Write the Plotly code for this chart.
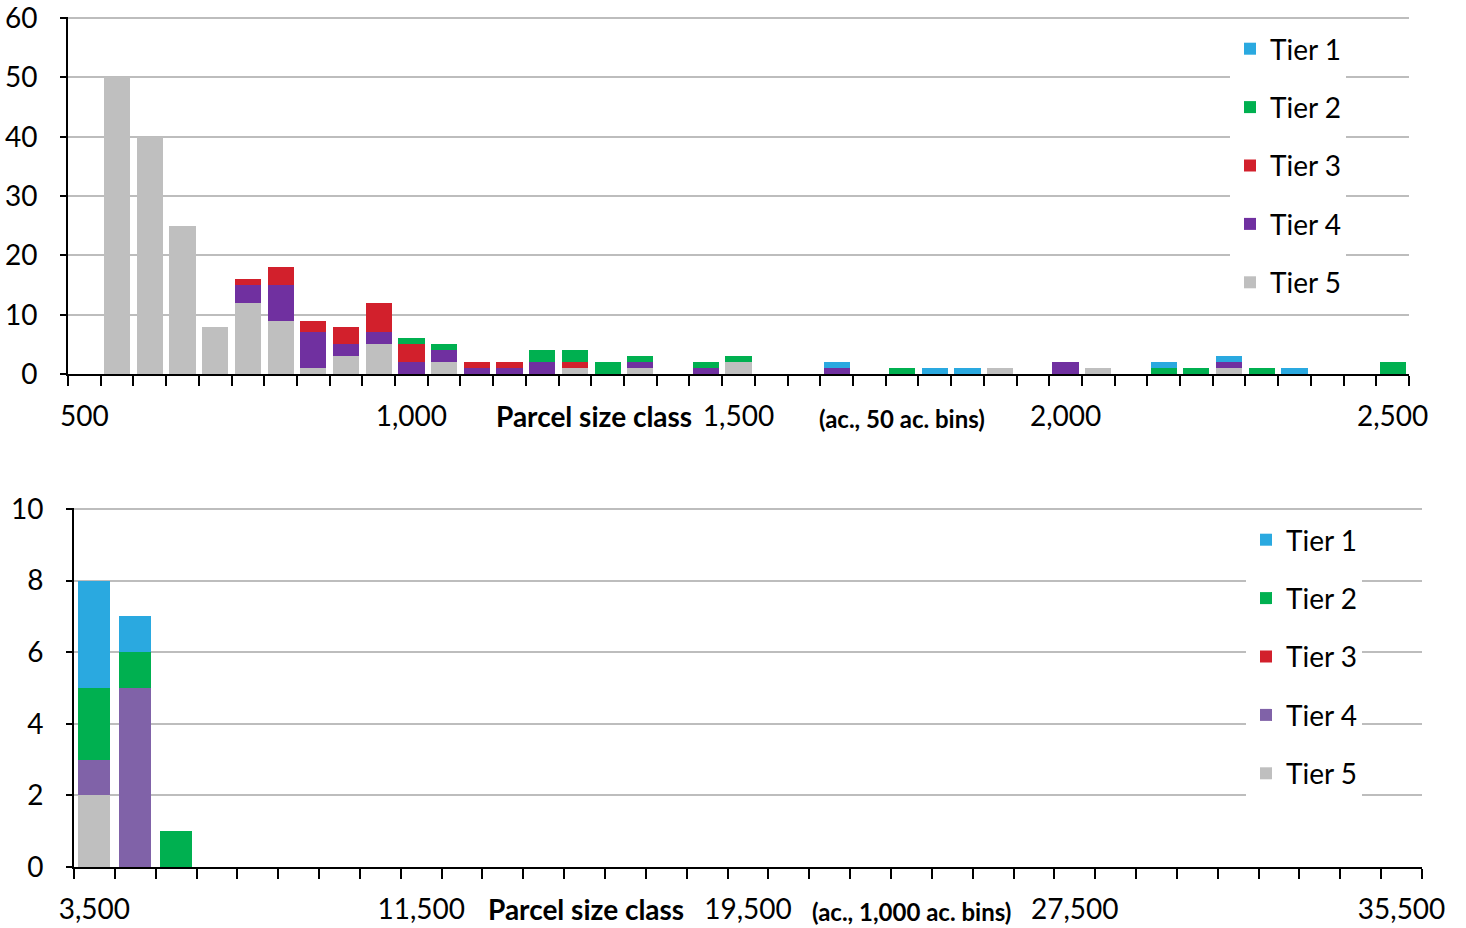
import plotly.graph_objects as go

W, H = 1466, 928

# ---------------- Top chart data (50 ac. bins, 500 .. 2500) ----------------
top_bins = list(range(500, 2501, 50))
top_tier5 = [0, 50, 40, 25, 8, 12, 9, 1, 3, 5, 0, 2, 0, 0, 0, 1, 0, 1, 0, 0, 2,
             0, 0, 0, 0, 0, 0, 0, 1, 0, 0, 1, 0, 0, 0, 1, 0, 0, 0, 0, 0]
top_tier4 = [0, 0, 0, 0, 0, 3, 6, 6, 2, 2, 2, 2, 1, 1, 2, 0, 0, 1, 0, 1, 0,
             0, 0, 1, 0, 0, 0, 0, 0, 0, 2, 0, 0, 0, 0, 1, 0, 0, 0, 0, 0]
top_tier3 = [0, 0, 0, 0, 0, 1, 3, 2, 3, 5, 3, 0, 1, 1, 0, 1, 0, 0, 0, 0, 0,
             0, 0, 0, 0, 0, 0, 0, 0, 0, 0, 0, 0, 0, 0, 0, 0, 0, 0, 0, 0]
top_tier2 = [0, 0, 0, 0, 0, 0, 0, 0, 0, 0, 1, 1, 0, 0, 2, 2, 2, 1, 0, 1, 1,
             0, 0, 0, 0, 1, 0, 0, 0, 0, 0, 0, 0, 1, 1, 0, 1, 0, 0, 0, 2]
top_tier1 = [0, 0, 0, 0, 0, 0, 0, 0, 0, 0, 0, 0, 0, 0, 0, 0, 0, 0, 0, 0, 0,
             0, 0, 1, 0, 0, 1, 1, 0, 0, 0, 0, 0, 1, 0, 1, 0, 1, 0, 0, 0]
top_ticks = [500, 1000, 1500, 2000, 2500]
top_yticks = [0, 10, 20, 30, 40, 50, 60]

# ---------------- Bottom chart data (1,000 ac. bins, 3,500 .. 35,500) ----------------
bot_bins = list(range(3500, 35501, 1000))
bot_tier5 = [2] + [0] * 32
bot_tier4 = [1, 5] + [0] * 31
bot_tier3 = [0] * 33
bot_tier2 = [2, 1, 1] + [0] * 30
bot_tier1 = [3, 1] + [0] * 31
bot_ticks = [3500, 11500, 19500, 27500, 35500]
bot_yticks = [0, 2, 4, 6, 8, 10]

tier_names = ["Tier 5", "Tier 4", "Tier 3", "Tier 2", "Tier 1"]
tier_ranks = [5, 4, 3, 2, 1]
top_colors = ["#BFBFBF", "#7030A0", "#D2202C", "#00B050", "#2AA9E0"]
bot_colors = ["#BFBFBF", "#8062A8", "#D2202C", "#00B050", "#2AA9E0"]

FONT = "Lato, 'Open Sans', sans-serif"

fig = go.Figure()

top_series = [top_tier5, top_tier4, top_tier3, top_tier2, top_tier1]
for name, rank, vals, col in zip(tier_names, tier_ranks, top_series, top_colors):
    fig.add_trace(go.Bar(x=top_bins, y=vals, name=name, marker_color=col,
                         marker_line_width=0, width=40, xaxis="x", yaxis="y",
                         legend="legend", legendgroup="top" + name, legendrank=rank))

bot_series = [bot_tier5, bot_tier4, bot_tier3, bot_tier2, bot_tier1]
for name, rank, vals, col in zip(tier_names, tier_ranks, bot_series, bot_colors):
    fig.add_trace(go.Bar(x=bot_bins, y=vals, name=name, marker_color=col,
                         marker_line_width=0, width=780, xaxis="x2", yaxis="y2",
                         legend="legend2", legendgroup="bot" + name, legendrank=rank))


def px_x(p):
    return p / W


def px_y(p):
    return 1 - p / H


axis_common = dict(showline=True, linecolor="black", linewidth=2, automargin=False,
                   ticklabeloverflow="allow",
                   tickfont=dict(family=FONT, size=28, color="black"))

xcommon = dict(axis_common, showgrid=False, zeroline=False, ticks="outside",
               ticklen=10, tickcolor="rgba(0,0,0,0)", ticklabelstandoff=6)
ycommon = dict(axis_common, showgrid=True, gridcolor="#BDBDBD", gridwidth=1.5,
               zeroline=False, ticks="outside", ticklen=6, tickwidth=2,
               tickcolor="black", ticklabelstandoff=17)

legend_common = dict(xanchor="left", yanchor="top", bgcolor="white",
                     traceorder="grouped", tracegroupgap=19,
                     font=dict(family=FONT, size=28, color="black"), itemwidth=30)

fig.update_layout(
    width=W, height=H,
    margin=dict(l=0, r=0, t=0, b=0, autoexpand=False),
    paper_bgcolor="white", plot_bgcolor="white",
    barmode="stack", bargap=0,
    font=dict(family=FONT, size=28, color="black"),
    xaxis=dict(xcommon, domain=[px_x(68), px_x(1409)], range=[475, 2525],
               tickmode="array", tickvals=top_ticks, tickformat=",",
               minor=dict(ticks="outside", ticklen=10, tickwidth=2, tickcolor="black",
                          tick0=475, dtick=50, showgrid=False),
               anchor="y"),
    yaxis=dict(ycommon, domain=[px_y(374), px_y(17)], range=[0, 60.2],
               tickmode="array", tickvals=top_yticks, anchor="x"),
    xaxis2=dict(xcommon, domain=[px_x(74), px_x(1422)], range=[3000, 36000],
                tickmode="array", tickvals=bot_ticks, tickformat=",",
                minor=dict(ticks="outside", ticklen=10, tickwidth=2, tickcolor="black",
                           tick0=3000, dtick=1000, showgrid=False),
                anchor="y2"),
    yaxis2=dict(ycommon, domain=[px_y(867), px_y(508)], range=[0, 10.03],
                tickmode="array", tickvals=bot_yticks, anchor="x2"),
    legend=dict(legend_common, x=px_x(1230), y=px_y(24)),
    legend2=dict(legend_common, x=px_x(1246), y=px_y(515)),
    showlegend=True,
)

ann_bold = dict(family=FONT, size=28, color="black")
ann_small = dict(family=FONT, size=24, color="black")
ann_common = dict(xref="paper", yref="paper", showarrow=False,
                  xanchor="center", yanchor="middle")
fig.add_annotation(ann_common, text="<b>Parcel size class</b>",
                   x=px_x(594), y=px_y(416), font=ann_bold)
fig.add_annotation(ann_common, text="<b>(ac., 50 ac. bins)</b>",
                   x=px_x(902), y=px_y(418), font=ann_small)
fig.add_annotation(ann_common, text="<b>Parcel size class</b>",
                   x=px_x(586), y=px_y(909), font=ann_bold)
fig.add_annotation(ann_common, text="<b>(ac., 1,000 ac. bins)</b>",
                   x=px_x(912), y=px_y(911), font=ann_small)

fig.write_html("out.html", config={"displayModeBar": False},
               post_script="document.body.style.margin='0';document.body.style.overflow='hidden';")
